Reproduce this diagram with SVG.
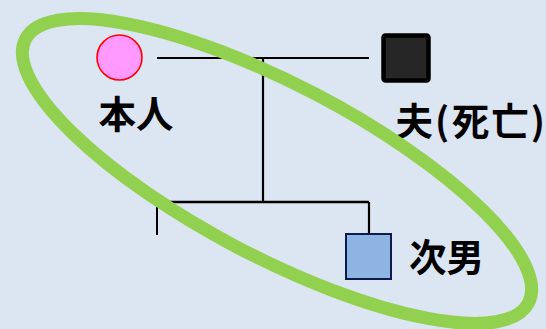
<svg xmlns="http://www.w3.org/2000/svg" width="546" height="329" viewBox="0 0 546 329">
<style>
.ln{stroke:#000;fill:none;stroke-linecap:butt}
.lbl{font-family:"Noto Sans CJK JP","Noto Sans CJK SC",sans-serif;font-weight:bold;font-size:37.5px;fill:#000}
</style>
<rect width="546" height="329" fill="#dce6f2"/>
<g id="connectors">
<line class="ln" x1="157" y1="58" x2="369" y2="58" stroke-width="2"/>
<line class="ln" x1="263" y1="58" x2="263" y2="202" stroke-width="2.2"/>
<line class="ln" x1="157" y1="202" x2="369" y2="202" stroke-width="2.5"/>
<line class="ln" x1="369" y1="202" x2="369" y2="234" stroke-width="2.2"/>
<line class="ln" x1="157" y1="202" x2="157" y2="235" stroke-width="2"/>
</g>
<g id="self">
<circle cx="119.5" cy="57.5" r="22.5" fill="#ff99ff" stroke="#ff0000" stroke-width="1.6"/>
<text class="lbl" x="98.5" y="128">本人</text>
</g>
<g id="husband">
<rect x="383.5" y="35.5" width="45" height="45" rx="2" fill="#262626" stroke="#000" stroke-width="4.5"/>
<text class="lbl" x="395.5" y="135" dx="0 2 2.5 2 2">夫(死亡)</text>
</g>
<g id="son2">
<rect x="346" y="234" width="45" height="45" fill="#8eb4e3" stroke="#0c1a4d" stroke-width="2"/>
<text class="lbl" x="409" y="271">次男</text>
</g>
<g id="highlight">
<ellipse cx="277" cy="171" rx="284" ry="86" transform="rotate(27.7 277 171)" fill="none" stroke="#92d050" stroke-width="13"/>
</g>
</svg>
